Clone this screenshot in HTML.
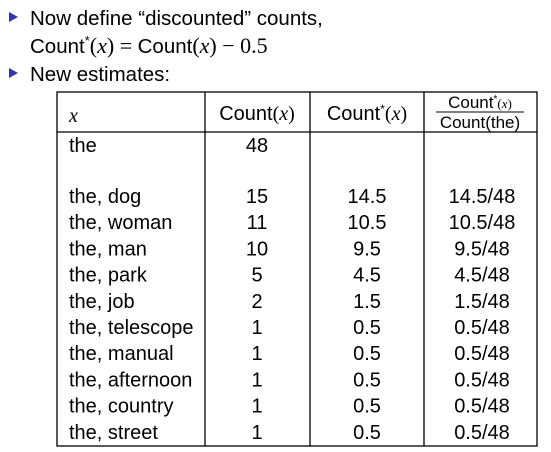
<!DOCTYPE html>
<html><head><meta charset="utf-8"><style>
html,body{margin:0;padding:0;background:#fff;width:551px;height:452px;overflow:hidden}
svg{display:block}
text{font-family:"Liberation Sans",sans-serif;fill:#000}
.m{font-family:"Liberation Serif",serif;font-style:italic}
.mr{font-family:"Liberation Serif",serif}
</style></head><body>
<svg width="551" height="452">
<polygon points="9,12 9,22 18,17" fill="#3333b3"/>
<text x="30" y="25" font-size="20.5">Now define “discounted” counts,</text>
<text x="30" y="53" font-size="20.5">Count<tspan font-size="13" dy="-8">*</tspan><tspan class="mr" dy="8" font-size="22">(</tspan><tspan class="m" font-size="22">x</tspan><tspan class="mr" font-size="22">) = </tspan>Count<tspan class="mr" font-size="22">(</tspan><tspan class="m" font-size="22">x</tspan><tspan class="mr" font-size="22">) − 0.5</tspan></text>
<polygon points="9,68 9,78 18,73" fill="#3333b3"/>
<text x="30" y="81" font-size="20.5">New estimates:</text>
<g stroke="#000" stroke-width="1.3" fill="none">
<rect x="57" y="92" width="480" height="354"/>
<line x1="57" y1="132" x2="537" y2="132"/>
<line x1="205" y1="92" x2="205" y2="446"/>
<line x1="310" y1="92" x2="310" y2="446"/>
<line x1="424" y1="92" x2="424" y2="446"/>
</g>
<text x="69" y="122" font-size="20" class="m">x</text>
<text x="257" y="120" font-size="20" text-anchor="middle">Count<tspan class="mr">(</tspan><tspan class="m">x</tspan><tspan class="mr">)</tspan></text>
<text x="367" y="120" font-size="20" text-anchor="middle">Count<tspan font-size="12" dy="-7">*</tspan><tspan class="mr" dy="7">(</tspan><tspan class="m">x</tspan><tspan class="mr">)</tspan></text>
<text x="480" y="108" font-size="17" text-anchor="middle">Count<tspan font-size="10" dy="-6">*</tspan><tspan class="mr" font-size="13" dy="6">(</tspan><tspan class="m" font-size="13">x</tspan><tspan class="mr" font-size="13">)</tspan></text>
<line x1="436" y1="112" x2="524" y2="112" stroke="#000" stroke-width="1"/>
<text x="480" y="128" font-size="17" text-anchor="middle">Count(the)</text>
<g id="rows"></g>
</svg>
<script>
const labels=["the","the, dog","the, woman","the, man","the, park","the, job","the, telescope","the, manual","the, afternoon","the, country","the, street"];
const counts=["48","15","11","10","5","2","1","1","1","1","1"];
const discounted=["","14.5","10.5","9.5","4.5","1.5","0.5","0.5","0.5","0.5","0.5"];
const ratios=["","14.5/48","10.5/48","9.5/48","4.5/48","1.5/48","0.5/48","0.5/48","0.5/48","0.5/48","0.5/48"];
const g=document.getElementById('rows');
const NS="http://www.w3.org/2000/svg";
function t(x,y,s,anchor){const e=document.createElementNS(NS,'text');e.setAttribute('x',x);e.setAttribute('y',y);e.setAttribute('font-size','20');if(anchor)e.setAttribute('text-anchor',anchor);e.textContent=s;g.appendChild(e);return e;}
labels.forEach((l,i)=>{
  const y=i===0?152:203+(i-1)*26.2;
  let e=t(69,y,l);
  
  
  e=t(257,y,counts[i],'middle');
  
  
  e=t(367,y,discounted[i],'middle');
  
  
  e=t(482,y,ratios[i],'middle');
  
  
});
</script>
</body></html>
